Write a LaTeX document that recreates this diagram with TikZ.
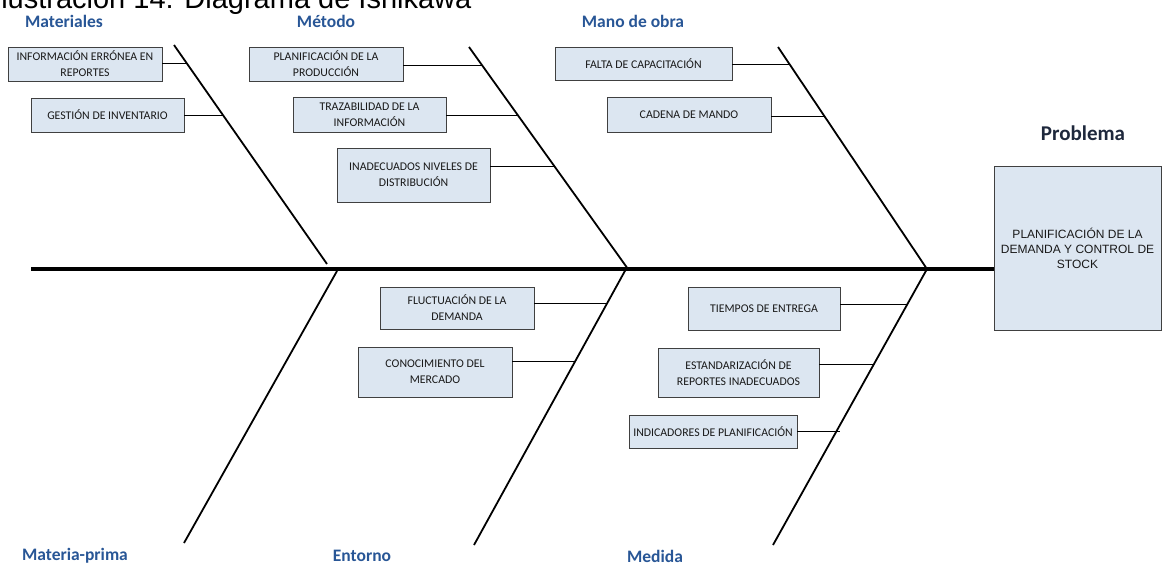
\documentclass[tikz,border=0pt]{standalone}
\usepackage{fontspec}
\newfontfamily\carlfont{Carlito}
\newfontfamily\arialfont{Liberation Sans}
\definecolor{boxfill}{RGB}{220,230,241}
\definecolor{catblue}{RGB}{40,86,150}
\definecolor{probtxt}{RGB}{30,40,60}
\tikzset{
  cbox/.style={draw=black!75, fill=boxfill, line width=0.9pt, align=center,
    font=\carlfont\fontsize{11.8}{16}\selectfont, text=black!90, inner sep=0pt},
  catlabel/.style={font=\carlfont\bfseries\fontsize{17.5}{18}\selectfont, text=catblue, inner sep=0pt},
  bone/.style={line width=1.8pt, black},
  twig/.style={line width=0.9pt, black},
  spine/.style={line width=3.6pt, black}
}
\begin{document}
\begin{tikzpicture}[x=1pt,y=-1pt]
\useasboundingbox (0,0) rectangle (1162,565);
\clip (0,0) rectangle (1162,565);
% title (cut off at top)
\node[anchor=base west, inner sep=0pt, font=\arialfont\fontsize{29}{29}\selectfont] (title) at (-7,8) {Ilustración 14: Diagrama de Ishikawa};
% problem
\node[cbox, font=\arialfont\fontsize{12}{15}\selectfont, minimum width=167pt, minimum height=164pt] (prob) at (1077.5,248) {PLANIFICACIÓN DE LA\\DEMANDA Y CONTROL DE\\STOCK};
\node[font=\carlfont\bfseries\fontsize{21}{22}\selectfont, text=probtxt, inner sep=0pt] (problema) at (1083,133) {Problema};
% category labels
\node[catlabel] (cmat) at (64,21) {Materiales};
\node[catlabel] (cmet) at (326,21) {Método};
\node[catlabel] (cmano) at (633,21) {Mano de obra};
\node[catlabel] (cmp) at (75,556) {Materia-prima};
\node[catlabel] (cent) at (362,556) {Entorno};
\node[catlabel] (cmed) at (655,556) {Medida};
% bone coordinates
\coordinate (s0) at (31,269);
\coordinate (b1a) at (174,45);  \coordinate (b1b) at (327,264);
\coordinate (b2a) at (469,47);  \coordinate (b2b) at (628,269);
\coordinate (b3a) at (778,47);  \coordinate (b3b) at (927,269);
\coordinate (b4a) at (337,271); \coordinate (b4b) at (184,543);
\coordinate (b5a) at (626,269); \coordinate (b5b) at (474,545);
\coordinate (b6a) at (927,269); \coordinate (b6b) at (773,545);
% spine and bones
\draw[spine] (s0) -- (prob.west |- s0);
\draw[bone] (b1a) -- (b1b);
\draw[bone] (b2a) -- (b2b);
\draw[bone] (b3a) -- (b3b);
\draw[bone] (b4a) -- (b4b);
\draw[bone] (b5a) -- (b5b);
\draw[bone] (b6a) -- (b6b);
% cause boxes
\node[cbox, minimum width=154pt, minimum height=34pt] (inf) at (85,64) {INFORMACIÓN ERRÓNEA EN\\REPORTES};
\node[cbox, minimum width=153pt, minimum height=34pt] (ges) at (107.5,115) {GESTIÓN DE INVENTARIO};
\node[cbox, minimum width=154pt, minimum height=34pt] (pla) at (326,64) {PLANIFICACIÓN DE LA\\PRODUCCIÓN};
\node[cbox, minimum width=153pt, minimum height=35pt] (tra) at (369.5,114.5) {TRAZABILIDAD DE LA\\INFORMACIÓN};
\node[cbox, minimum width=153pt, minimum height=54pt] (ina) at (413.5,175) {INADECUADOS NIVELES DE\\DISTRIBUCIÓN};
\node[cbox, minimum width=177pt, minimum height=33pt] (fal) at (643.5,63.5) {FALTA DE CAPACITACIÓN};
\node[cbox, minimum width=164pt, minimum height=35pt] (cad) at (689,114.5) {CADENA DE MANDO};
\node[cbox, minimum width=154pt, minimum height=42pt] (flu) at (457,308) {FLUCTUACIÓN DE LA\\DEMANDA};
\node[cbox, minimum width=154pt, minimum height=50pt] (con) at (435,372) {CONOCIMIENTO DEL\\MERCADO};
\node[cbox, minimum width=152pt, minimum height=43pt] (tie) at (764,308.5) {TIEMPOS DE ENTREGA};
\node[cbox, minimum width=161pt, minimum height=49pt] (est) at (738.5,372.5) {ESTANDARIZACIÓN DE\\REPORTES INADECUADOS};
\node[cbox, minimum width=168pt, minimum height=33pt] (ind) at (713,431.5) {INDICADORES DE PLANIFICACIÓN};
% twig end points on the bones
\coordinate (e1) at (186.6,63);
\coordinate (e2) at (222.9,115);
\coordinate (e3) at (481.9,65);
\coordinate (e4) at (517.7,115);
\coordinate (e5) at (554.2,166);
\coordinate (e6) at (789.4,64);
\coordinate (e7) at (824.3,116);
\coordinate (e8) at (607.3,303);
\coordinate (e9) at (575.3,361);
\coordinate (e10) at (907.5,304);
\coordinate (e11) at (874.0,364);
\coordinate (e12) at (840,431);
% twigs
\draw[twig] (inf.east |- e1) -- (e1);
\draw[twig] (ges.east |- e2) -- (e2);
\draw[twig] (pla.east |- e3) -- (e3);
\draw[twig] (tra.east |- e4) -- (e4);
\draw[twig] (ina.east |- e5) -- (e5);
\draw[twig] (fal.east |- e6) -- (e6);
\draw[twig] (cad.east |- e7) -- (e7);
\draw[twig] (flu.east |- e8) -- (e8);
\draw[twig] (con.east |- e9) -- (e9);
\draw[twig] (tie.east |- e10) -- (e10);
\draw[twig] (est.east |- e11) -- (e11);
\draw[twig] (ind.east |- e12) -- (e12);
\end{tikzpicture}
\end{document}
